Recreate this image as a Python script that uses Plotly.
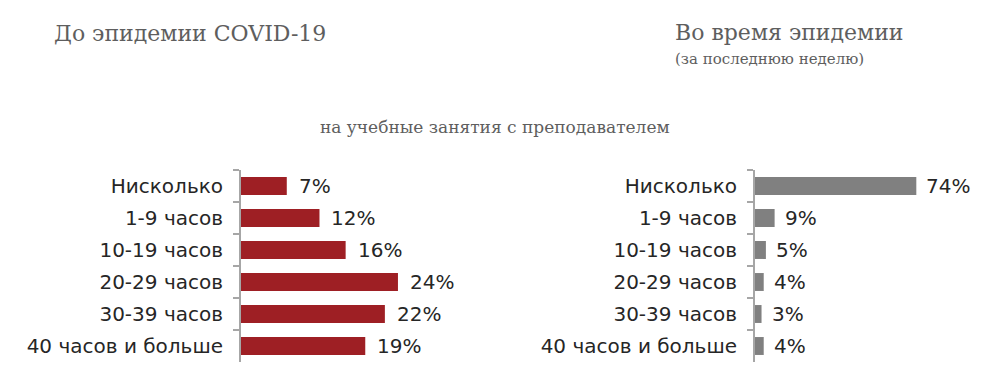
import plotly.graph_objects as go

categories = ["Нисколько", "1-9 часов", "10-19 часов", "20-29 часов", "30-39 часов", "40 часов и больше"]
before_values = [7, 12, 16, 24, 22, 19]
during_values = [74, 9, 5, 4, 3, 4]

title_left = "До эпидемии COVID-19"
title_right = "Во время эпидемии"
subtitle_right = "(за последнюю неделю)"
center_title = "на учебные занятия с преподавателем"

W, H = 986, 390
OFF = 8  # browser body margin
RED = "#9E1F24"
GRAY = "#808080"
TITLE_COLOR = "#5E5E5E"
LABEL_FONT = dict(family="DejaVu Sans", size=20, color="#262626")
SERIF = "Georgia, DejaVu Serif, serif"

def px(x):
    return (x - OFF) / W

def py(y):
    return 1 - (y - OFF) / H

fig = go.Figure()
fig.add_trace(go.Bar(y=categories, x=before_values, orientation="h",
                     marker=dict(color=RED, line=dict(width=0)),
                     width=0.56, xaxis="x", yaxis="y", hoverinfo="skip"))
fig.add_trace(go.Bar(y=categories, x=during_values, orientation="h",
                     marker=dict(color=GRAY, line=dict(width=0)),
                     width=0.56, xaxis="x2", yaxis="y2", hoverinfo="skip"))

annotations = []
for c, v in zip(categories, before_values):
    annotations.append(dict(x=v, y=c, xref="x", yref="y", text=f"{v}%", showarrow=False,
                            xanchor="left", yanchor="middle", xshift=10, font=LABEL_FONT))
for c, v in zip(categories, during_values):
    annotations.append(dict(x=v, y=c, xref="x2", yref="y2", text=f"{v}%", showarrow=False,
                            xanchor="left", yanchor="middle", xshift=8, font=LABEL_FONT))

annotations += [
    dict(x=px(52), y=py(34), xref="paper", yref="paper", text=title_left, showarrow=False,
         xanchor="left", yanchor="middle", font=dict(family=SERIF, size=22, color=TITLE_COLOR)),
    dict(x=px(673), y=py(33), xref="paper", yref="paper", text=title_right, showarrow=False,
         xanchor="left", yanchor="middle", font=dict(family=SERIF, size=22, color=TITLE_COLOR)),
    dict(x=px(673), y=py(59), xref="paper", yref="paper", text=subtitle_right, showarrow=False,
         xanchor="left", yanchor="middle", font=dict(family=SERIF, size=15, color=TITLE_COLOR)),
    dict(x=px(495), y=py(127), xref="paper", yref="paper", text=center_title, showarrow=False,
         xanchor="center", yanchor="middle", font=dict(family=SERIF, size=17, color=TITLE_COLOR)),
]

yaxis_common = dict(type="category", categoryorder="array", categoryarray=categories,
                    autorange="reversed", showgrid=False, zeroline=False,
                    showline=True, linecolor="#A6A6A6", linewidth=2,
                    ticks="outside", tickson="boundaries", ticklen=6, tickwidth=2,
                    tickcolor="#A6A6A6", tickfont=LABEL_FONT, ticklabelstandoff=12,
                    domain=[py(362), py(170)], fixedrange=True)

fig.update_layout(
    width=W, height=H,
    margin=dict(l=0, r=0, t=0, b=0),
    paper_bgcolor="white", plot_bgcolor="white",
    showlegend=False, bargap=0.44,
    xaxis=dict(domain=[px(241), px(241 + 30 * 6.54)], range=[0, 30], visible=False, fixedrange=True),
    yaxis=dict(anchor="x", **yaxis_common),
    xaxis2=dict(domain=[px(755), px(755 + 80 * 2.18)], range=[0, 80], visible=False, fixedrange=True),
    yaxis2=dict(anchor="x2", **yaxis_common),
    annotations=annotations,
)

fig.write_html("out.html")
